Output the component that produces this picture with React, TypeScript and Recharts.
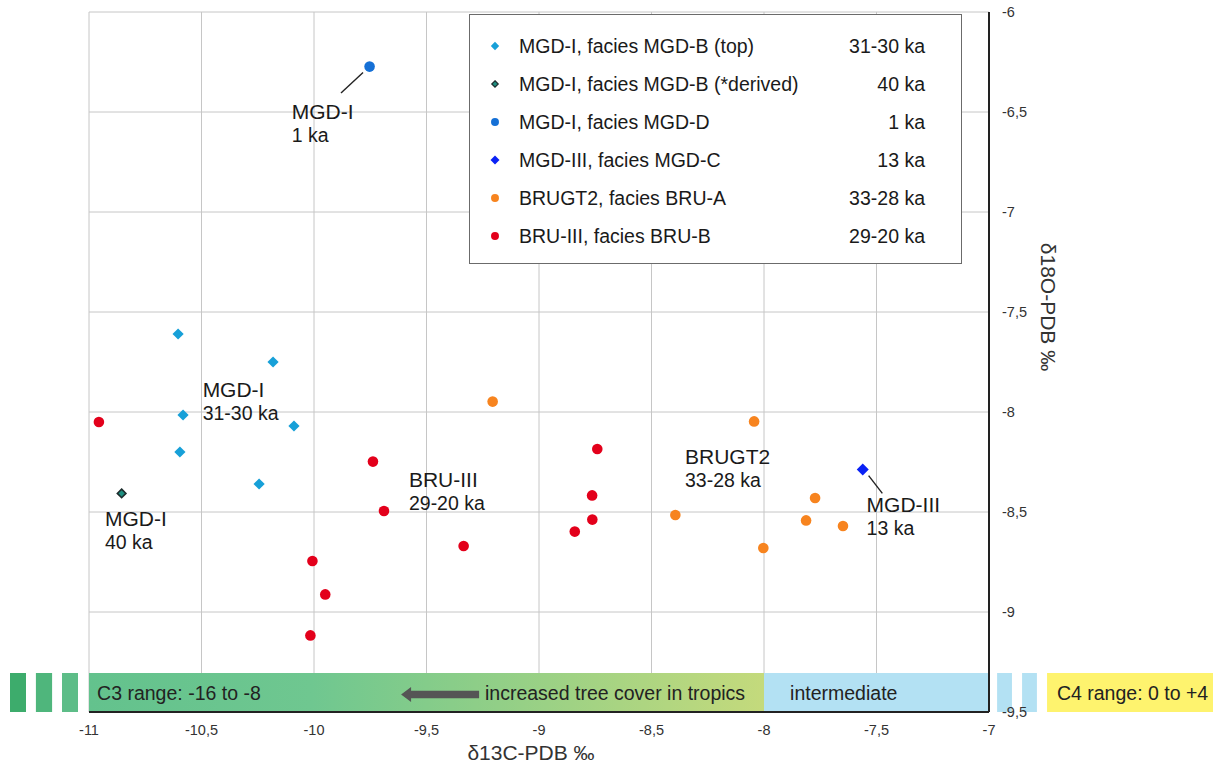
import React from "react"
import {
  ScatterChart,
  Scatter,
  XAxis,
  YAxis,
  CartesianGrid,
  ReferenceArea,
  ReferenceDot,
  ReferenceLine,
  Legend,
} from "recharts"

const FONT = '"Liberation Sans", Arial, sans-serif'

// axes
const c13Ticks = [-11, -10.5, -10, -9.5, -9, -8.5, -8, -7.5, -7]
const o18Ticks = [-9.5, -9, -8.5, -8, -7.5, -7, -6.5, -6]

// series values (δ13C, δ18O)
const mgdBTop = [
  { x: -10.604, y: -7.61 },
  { x: -10.182, y: -7.75 },
  { x: -10.582, y: -8.015 },
  { x: -10.089, y: -8.07 },
  { x: -10.596, y: -8.2 },
  { x: -10.244, y: -8.36 },
]
const mgdBDerived = [{ x: -10.855, y: -8.407 }]
const mgdD = [{ x: -9.753, y: -6.273 }]
const mgdC = [{ x: -7.561, y: -8.287 }]
const bruA = [
  { x: -9.206, y: -7.948 },
  { x: -8.044, y: -8.047 },
  { x: -8.394, y: -8.515 },
  { x: -7.773, y: -8.43 },
  { x: -7.813, y: -8.542 },
  { x: -7.649, y: -8.57 },
  { x: -8.003, y: -8.68 },
]
const bruB = [
  { x: -10.956, y: -8.05 },
  { x: -9.738, y: -8.248 },
  { x: -9.689, y: -8.495 },
  { x: -8.741, y: -8.185 },
  { x: -8.764, y: -8.417 },
  { x: -8.763, y: -8.538 },
  { x: -8.841, y: -8.598 },
  { x: -9.335, y: -8.67 },
  { x: -10.007, y: -8.745 },
  { x: -9.95, y: -8.912 },
  { x: -10.016, y: -9.117 },
]

const seriesNames = [
  "MGD-I, facies MGD-B (top)",
  "MGD-I, facies MGD-B (*derived)",
  "MGD-I, facies MGD-D",
  "MGD-III, facies MGD-C",
  "BRUGT2, facies BRU-A",
  "BRU-III, facies BRU-B",
]
const seriesAges = ["31-30 ka", "40 ka", "1 ka", "13 ka", "33-28 ka", "29-20 ka"]
const seriesData = [mgdBTop, mgdBDerived, mgdD, mgdC, bruA, bruB]

// annotations in the plot
const annoLines = [
  ["MGD-I", "1 ka"],
  ["MGD-I", "31-30 ka"],
  ["MGD-I", "40 ka"],
  ["BRU-III", "29-20 ka"],
  ["BRUGT2", "33-28 ka"],
  ["MGD-III", "13 ka"],
]
const annoAt = [
  { x: -10.099, y: -6.537 },
  { x: -10.495, y: -7.925 },
  { x: -10.929, y: -8.57 },
  { x: -9.578, y: -8.377 },
  { x: -8.351, y: -8.26 },
  { x: -7.544, y: -8.502 },
]
const leaders = [
  [{ x: -9.88, y: -6.405 }, { x: -9.782, y: -6.302 }],
  [{ x: -7.535, y: -8.318 }, { x: -7.474, y: -8.407 }],
]

// range band along the bottom
const bandY = [-9.5, -9.305]
const c3Band = [-11, -8]
const midBand = [-8, -7]
const greenBlocks = [
  [-11.351, -11.28],
  [-11.236, -11.164],
  [-11.12, -11.049],
]
const blueBlocks = [
  [-6.964, -6.898],
  [-6.853, -6.787],
]
const c4Block = [-6.742, -6.0]
const bandTexts = [
  { x: -10.964, text: "C3 range: -16 to -8" },
  { x: -9.24, text: "increased tree cover in tropics" },
  { x: -7.884, text: "intermediate" },
  { x: -6.698, text: "C4 range: 0 to +4" },
]
const bandTextY = -9.44
const arrowTip = { x: -9.613, y: -9.4125 }

const colors = ["#17a0d8", "#1e8f80", "#1570d6", "#0a22f5", "#f7841f", "#e3001b"]
const kinds = ["diamond", "diamondOutline", "circle", "diamond", "circle", "circle"]
const greenShades = ["#3dac6c", "#4fb67c", "#5dbd88"]

const fmt = (v: number) => String(v).replace(".", ",")

function Marker({ cx, cy, kind, color, scale = 1 }: any) {
  if (kind === "circle") return <circle cx={cx} cy={cy} r={5.3 * scale} fill={color} />
  const h = (kind === "diamondOutline" ? 4.3 : kind === "diamond" && color === "#0a22f5" ? 6 : 5.6) * scale
  const pts = `${cx},${cy - h} ${cx + h},${cy} ${cx},${cy + h} ${cx - h},${cy}`
  if (kind === "diamondOutline")
    return <polygon points={pts} fill={color} stroke="#1d2d2d" strokeWidth={1.6 * scale} />
  return <polygon points={pts} fill={color} />
}

function LegendBox() {
  return (
    <div
      style={{
        width: "100%",
        height: "100%",
        boxSizing: "border-box",
        border: "1.5px solid #6b6b6b",
        background: "#fff",
        paddingTop: 12,
        fontFamily: FONT,
        fontSize: 19.5,
        color: "#1a1a1a",
      }}
    >
      {seriesNames.map((name, i) => (
        <div key={name} style={{ display: "flex", alignItems: "center", height: 38 }}>
          <svg width={14} height={14} style={{ marginLeft: 18, flex: "none" }}>
            <Marker cx={7} cy={7} kind={kinds[i]} color={colors[i]} scale={0.75} />
          </svg>
          <span style={{ marginLeft: 17 }}>{name}</span>
          <span style={{ marginLeft: "auto", marginRight: 36 }}>{seriesAges[i]}</span>
        </div>
      ))}
    </div>
  )
}

export default function App() {
  return (
    <div style={{ position: "absolute", left: 0, top: 0 }}>
      <ScatterChart width={1213} height={764} margin={{ top: 12, left: 89, right: 164, bottom: 4 }}>
        <defs>
          <linearGradient id="c3grad" x1="0" x2="1" y1="0" y2="0">
            <stop offset="0%" stopColor="#63c28d" />
            <stop offset="33%" stopColor="#6fc790" />
            <stop offset="50%" stopColor="#84cc8a" />
            <stop offset="100%" stopColor="#c4da7c" />
          </linearGradient>
        </defs>

        {greenBlocks.map((b, i) => (
          <ReferenceArea key={"g" + i} x1={b[0]} x2={b[1]} y1={bandY[0]} y2={bandY[1]} fill={greenShades[i]} fillOpacity={1} ifOverflow="visible" />
        ))}
        <ReferenceArea x1={c3Band[0]} x2={c3Band[1]} y1={bandY[0]} y2={bandY[1]} fill="url(#c3grad)" fillOpacity={1} ifOverflow="visible" />
        <ReferenceArea x1={midBand[0]} x2={midBand[1]} y1={bandY[0]} y2={bandY[1]} fill="#b3e1f3" fillOpacity={1} ifOverflow="visible" />
        {blueBlocks.map((b, i) => (
          <ReferenceArea key={"b" + i} x1={b[0]} x2={b[1]} y1={bandY[0]} y2={bandY[1]} fill="#b3e1f3" fillOpacity={1} ifOverflow="visible" />
        ))}
        <ReferenceArea x1={c4Block[0]} x2={c4Block[1]} y1={bandY[0]} y2={bandY[1]} fill="#fef36e" fillOpacity={1} ifOverflow="visible" />

        <CartesianGrid stroke="#c6c6c6" strokeWidth={1} />

        <XAxis
          type="number"
          dataKey="x"
          domain={[-11, -7]}
          ticks={c13Ticks}
          tickFormatter={fmt}
          height={48}
          tickSize={0}
          tickMargin={13}
          tickLine={false}
          axisLine={{ stroke: "#222", strokeWidth: 2 }}
          tick={{ fill: "#333", fontSize: 14.5, fontFamily: FONT }}
          label={{ value: "δ13C-PDB ‰", position: "insideBottom", offset: 0, dx: -8, fill: "#333", fontSize: 21, fontFamily: FONT }}
        />
        <YAxis
          type="number"
          dataKey="y"
          orientation="right"
          domain={[-9.5, -6]}
          ticks={o18Ticks}
          tickFormatter={fmt}
          width={60}
          tickSize={0}
          tickMargin={13}
          tickLine={false}
          axisLine={{ stroke: "#222", strokeWidth: 2 }}
          tick={{ fill: "#333", fontSize: 14.5, fontFamily: FONT }}
          label={{ value: "δ18O-PDB ‰", position: "center", angle: 90, dx: 29, dy: -55, fill: "#333", fontSize: 21, fontFamily: FONT }}
        />

        {bandTexts.map((t) => (
          <ReferenceDot
            key={t.text}
            x={t.x}
            y={bandTextY}
            r={0}
            ifOverflow="visible"
            shape={(p: any) => (
              <text x={p.cx} y={p.cy} fontSize={19.5} fontFamily={FONT} fill="#222">
                {t.text}
              </text>
            )}
          />
        ))}
        <ReferenceDot
          x={arrowTip.x}
          y={arrowTip.y}
          r={0}
          ifOverflow="visible"
          shape={(p: any) => (
            <polygon
              points={`${p.cx},${p.cy} ${p.cx + 10},${p.cy - 7.5} ${p.cx + 10},${p.cy - 3.8} ${p.cx + 78},${p.cy - 3.8} ${p.cx + 78},${p.cy + 3.8} ${p.cx + 10},${p.cy + 3.8} ${p.cx + 10},${p.cy + 7.5}`}
              fill="#555"
            />
          )}
        />

        {leaders.map((s, i) => (
          <ReferenceLine key={"l" + i} segment={s} stroke="#222" strokeWidth={1.4} ifOverflow="visible" />
        ))}
        {annoAt.map((a, i) => (
          <ReferenceDot
            key={"a" + i}
            x={a.x}
            y={a.y}
            r={0}
            ifOverflow="visible"
            shape={(p: any) => (
              <g fontFamily={FONT} fill="#1a1a1a">
                <text x={p.cx} y={p.cy} fontSize={21}>
                  {annoLines[i][0]}
                </text>
                <text x={p.cx} y={p.cy + 22.5} fontSize={19.5}>
                  {annoLines[i][1]}
                </text>
              </g>
            )}
          />
        ))}

        {seriesData.map((d, i) => (
          <Scatter
            key={seriesNames[i]}
            name={seriesNames[i]}
            data={d}
            fill={colors[i]}
            isAnimationActive={false}
            shape={(p: any) => <Marker cx={p.cx} cy={p.cy} kind={kinds[i]} color={colors[i]} />}
          />
        ))}

        <Legend
          layout="vertical"
          align="center"
          verticalAlign="middle"
          wrapperStyle={{ left: 469, top: 14, width: 493, height: 250 }}
          content={() => <LegendBox />}
        />
      </ScatterChart>
    </div>
  )
}
